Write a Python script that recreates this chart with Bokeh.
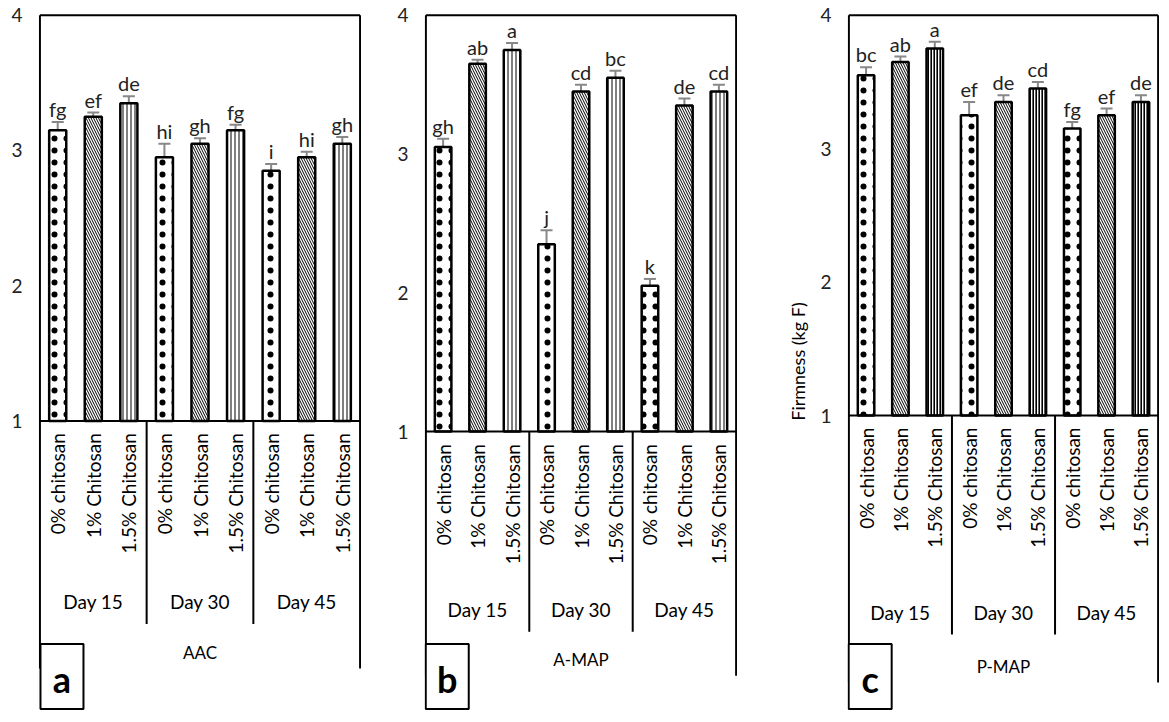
import math
from bokeh.plotting import figure
from bokeh.models import ColumnDataSource, Whisker, TeeHead, FixedTicker, Range1d
from bokeh.layouts import row
from bokeh.core.properties import value
from bokeh.embed import file_html
from bokeh.resources import INLINE

days = ["Day 15", "Day 30", "Day 45"]
treatments = ["0% chitosan", "1% Chitosan", "1.5% Chitosan"]

aac_vals = [3.15, 3.25, 3.35, 2.95, 3.05, 3.15, 2.85, 2.95, 3.05]
aac_err = [0.06, 0.03, 0.05, 0.10, 0.04, 0.04, 0.05, 0.04, 0.05]
aac_letters = ["fg", "ef", "de", "hi", "gh", "fg", "i", "hi", "gh"]

amap_vals = [3.05, 3.65, 3.75, 2.35, 3.45, 3.55, 2.05, 3.35, 3.45]
amap_err = [0.06, 0.03, 0.05, 0.10, 0.05, 0.05, 0.05, 0.05, 0.05]
amap_letters = ["gh", "ab", "a", "j", "cd", "bc", "k", "de", "cd"]

pmap_vals = [3.55, 3.65, 3.75, 3.25, 3.35, 3.45, 3.15, 3.25, 3.35]
pmap_err = [0.06, 0.04, 0.05, 0.10, 0.05, 0.05, 0.05, 0.05, 0.05]
pmap_letters = ["bc", "ab", "a", "ef", "de", "cd", "fg", "ef", "de"]

FONT = "Lato"
FH = 698


def panel(vals, errs, letters, title, tag, ybot, outline_bot, border_left, frame_width, dark=False, ylabel=None):
    ytop = 4.02
    p = figure(output_backend="svg", toolbar_location=None,
               frame_width=frame_width, frame_height=FH,
               min_border_left=border_left, min_border_right=0,
               min_border_top=12, min_border_bottom=4,
               x_range=Range1d(-0.04, 9.04), y_range=Range1d(ybot, ytop))
    p.outline_line_color = None
    p.grid.visible = False
    p.xaxis.visible = False
    ax = p.yaxis[0]
    ax.ticker = FixedTicker(ticks=[1, 2, 3, 4])
    ax.axis_line_color = None
    ax.major_tick_line_color = None
    ax.minor_tick_line_color = None
    ax.major_label_text_font = FONT
    ax.major_label_text_font_size = "19px"
    ax.major_label_text_color = "#222222"
    ax.major_label_standoff = 10
    if ylabel:
        ax.axis_label = ylabel
        ax.axis_label_text_font = FONT
        ax.axis_label_text_font_style = "normal"
        ax.axis_label_text_font_size = "18px"
        ax.axis_label_text_color = "black"
        ax.axis_label_standoff = 8

    n = len(vals)
    xs = [i + 0.5 for i in range(n)]
    pats = [".", "\\", "|"]
    src = ColumnDataSource(dict(x=xs, top=vals,
                                lo=[v - e for v, e in zip(vals, errs)],
                                hi=[v + e for v, e in zip(vals, errs)],
                                lab=letters))
    for k in range(3):
        idx = list(range(k, n, 3))
        sub = ColumnDataSource(dict(x=[xs[i] for i in idx], top=[vals[i] for i in idx]))
        if k == 0:
            hs, hw = 12, 0.4
        elif k == 1:
            hs, hw = 5, 1.0
        else:
            hs, hw = (3, 2.2) if dark else (4, 1.0)
        p.vbar(x="x", top="top", bottom=1, width=0.48, source=sub,
               fill_color="white", line_color="black", line_width=2.5,
               hatch_pattern=pats[k], hatch_scale=hs, hatch_weight=hw, hatch_color="black")
    p.add_layout(Whisker(base="x", lower="lo", upper="hi", source=src,
                         line_color="#888888", line_width=2,
                         upper_head=TeeHead(size=12, line_color="#888888", line_width=2),
                         lower_head=TeeHead(size=12, line_color="#888888", line_width=2)))
    p.text(x="x", y="hi", text="lab", source=src, text_align="center", text_baseline="bottom",
           y_offset=-1, text_font=value(FONT), text_font_size="20px", text_color="#222222")

    p.segment(x0=[0, 9, 0, 0], y0=[4, 4, 4, 1], x1=[0, 9, 9, 9], y1=[outline_bot, outline_bot, 4, 1],
              line_color="black", line_width=2)
    sep_bot = 1 - (1 - outline_bot) * 0.82
    p.segment(x0=[3, 6], y0=[1, 1], x1=[3, 6], y1=[sep_bot, sep_bot], line_color="black", line_width=2)

    p.text(x=xs, y=[1 - 0.09] * n, text=treatments * 3, angle=math.pi / 2,
           text_align="right", text_baseline="middle",
           text_font=value(FONT), text_font_size="19px", text_color="black")
    p.text(x=[1.5, 4.5, 7.5], y=[sep_bot + 0.08] * 3, text=days, text_align="center",
           text_baseline="bottom", text_font=value(FONT), text_font_size="19px", text_color="black")
    p.text(x=[4.5], y=[outline_bot + 0.04], text=[title], text_align="center", text_baseline="bottom",
           text_font=value(FONT), text_font_size="17px", text_color="black")

    per_px = (ytop - ybot) / FH
    cy = ybot + 34 * per_px
    p.rect(x=[0.62], y=[cy], width=43, height=65, width_units="screen", height_units="screen",
           fill_color="white", line_color="black", line_width=2)
    p.text(x=[0.62], y=[cy], text=[tag], text_align="center", text_baseline="middle", y_offset=2,
           text_font=value(FONT), text_font_size="36px", text_font_style="bold", text_color="black")
    return p


pa = panel(aac_vals, aac_err, aac_letters, "AAC", "a", -1.14, -0.83, 38, 323)
pb = panel(amap_vals, amap_err, amap_letters, "A-MAP", "b", -1.01, -0.76, 63, 313)
pc = panel(pmap_vals, pmap_err, pmap_letters, "P-MAP", "c", -1.21, -1.0, 110, 312, dark=True,
           ylabel="Firmness (kg F)")

layout = row(pa, pb, pc)
open("out.html", "w").write(file_html(layout, INLINE))
